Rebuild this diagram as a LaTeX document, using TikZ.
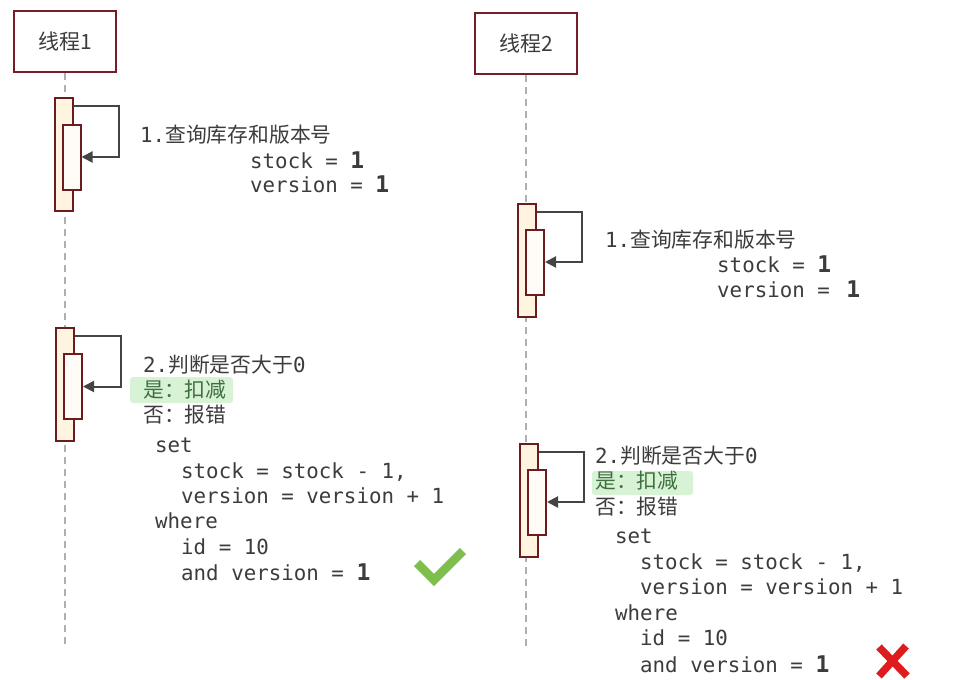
\documentclass[tikz,border=0pt]{standalone}
\usepackage{fontspec}
\setmonofont{DejaVu Sans Mono}
\newfontfamily\cjk{Noto Sans CJK SC}
\usetikzlibrary{arrows.meta}
\definecolor{boxred}{RGB}{118,30,40}
\definecolor{barred}{RGB}{108,28,30}
\definecolor{outerfill}{RGB}{255,244,224}
\definecolor{innerfill}{RGB}{255,251,246}
\definecolor{txtgray}{RGB}{60,60,60}
\definecolor{arrowgray}{RGB}{68,68,68}
\definecolor{lifegray}{RGB}{175,175,175}
\definecolor{hlgreen}{RGB}{216,242,214}
\definecolor{hltext}{RGB}{62,112,62}
\definecolor{okgreen}{RGB}{126,190,76}
\definecolor{badred}{RGB}{222,28,30}
\newcommand\txtsize{\fontsize{20.8pt}{25pt}\selectfont}
\newcommand\bigone{{\bfseries\fontsize{23pt}{25pt}\selectfont 1}}
\newcommand\threadfont{\cjk\fontsize{21pt}{24pt}\selectfont}
\tikzset{
  thread/.style={draw=boxred, line width=2pt, fill=white, minimum width=102pt, minimum height=61pt, inner sep=0pt, text=txtgray, font=\threadfont},
  lifeline/.style={draw=lifegray, line width=1.5pt, dash pattern=on 7pt off 5pt},
  outerbar/.style={draw=barred, line width=2pt, fill=outerfill, minimum width=18pt, minimum height=113pt, inner sep=0pt},
  innerbar/.style={draw=barred, line width=2pt, fill=innerfill, minimum width=18pt, minimum height=65pt, inner sep=0pt},
  msg/.style={draw=arrowgray, line width=2pt, -{Triangle[length=11pt,width=11pt]}},
  txt/.style={anchor=base west, inner sep=0pt, text=txtgray, font=\ttfamily\txtsize},
  hl/.style={fill=hlgreen, rounded corners=3pt}
}
\begin{document}
\begin{tikzpicture}[x=1pt,y=-1pt]
\fill[white] (0,0) rectangle (959,680);
\useasboundingbox (0,0) rectangle (959,680);

% participants
\node[thread] (t1) at (65,41.5) {线程1};
\node[thread] (t2) at (526,43.5) {线程2};
\coordinate (e1) at (65,647);
\coordinate (e2) at (526,650);
\draw[lifeline] (t1.south) -- (e1);
\draw[lifeline] (t2.south) -- (e2);

% activation bars thread 1
\node[outerbar] (o11) at (63.5,154.5) {};
\node[innerbar] (i11) at (71.5,157) {};
\node[outerbar] (o12) at (64.5,384.5) {};
\node[innerbar] (i12) at (73,386.5) {};
% activation bars thread 2
\node[outerbar] (o21) at (527,260) {};
\node[innerbar] (i21) at (535,262) {};
\node[outerbar] (o22) at (528.5,500.5) {};
\node[innerbar] (i22) at (537,502) {};

% self messages
\draw[msg] ([yshift=-9pt]o11.north east) -- ++(45,0) |- (i11.east);
\draw[msg] ([yshift=-9pt]o12.north east) -- ++(46,0) |- (i12.east);
\draw[msg] ([yshift=-9pt]o21.north east) -- ++(45,0) |- (i21.east);
\draw[msg] ([yshift=-9pt]o22.north east) -- ++(45,0) |- (i22.east);

% highlights
\fill[hl] (130,377) rectangle (233,403);
\fill[hl] (592,471) rectangle (693,495);

% thread 1 texts
\node[txt] (a1) at (140,142) {1.{\cjk 查询库存和版本号}};
\node[txt] (a2) at (250,168) {stock = \bigone};
\node[txt] (a3) at (250,192) {version = \bigone};

\node[txt] (b1) at (143,372) {2.{\cjk 判断是否大于}0};
\node[txt, text=hltext] (b2) at (143,397) {\cjk 是：扣减};
\node[txt] (b3) at (143,422) {\cjk 否：报错};
\node[txt] (b4) at (155,452) {set};
\node[txt] (b5) at (181,478) {stock = stock - 1,};
\node[txt] (b6) at (181,503) {version = version + 1};
\node[txt] (b7) at (155,528) {where};
\node[txt] (b8) at (181,554) {id = 10};
\node[txt] (b9) at (181,580) {and version = \bigone};

% thread 2 texts
\node[txt] (c1) at (605,247) {1.{\cjk 查询库存和版本号}};
\node[txt] (c2) at (717,272) {stock = \bigone};
\node[txt] (c3) at (717,297) {version = \hspace{4pt}\bigone};

\node[txt] (d1) at (595,463) {2.{\cjk 判断是否大于}0};
\node[txt, text=hltext] (d2) at (595,488) {\cjk 是：扣减};
\node[txt] (d3) at (595,514) {\cjk 否：报错};
\node[txt] (d4) at (615,543) {set};
\node[txt] (d5) at (640,569) {stock = stock - 1,};
\node[txt] (d6) at (640,594) {version = version + 1};
\node[txt] (d7) at (615,620) {where};
\node[txt] (d8) at (640,645) {id = 10};
\node[txt] (d9) at (640,672) {and version = \bigone};

% check mark and cross
\draw[okgreen, line width=8.5pt, line join=miter] (417,563) -- (434,580) -- (463,551);
\draw[badred, line width=7.5pt] (879,647) -- (907,676);
\draw[badred, line width=7.5pt] (906,646) -- (879,676);
\end{tikzpicture}
\end{document}
